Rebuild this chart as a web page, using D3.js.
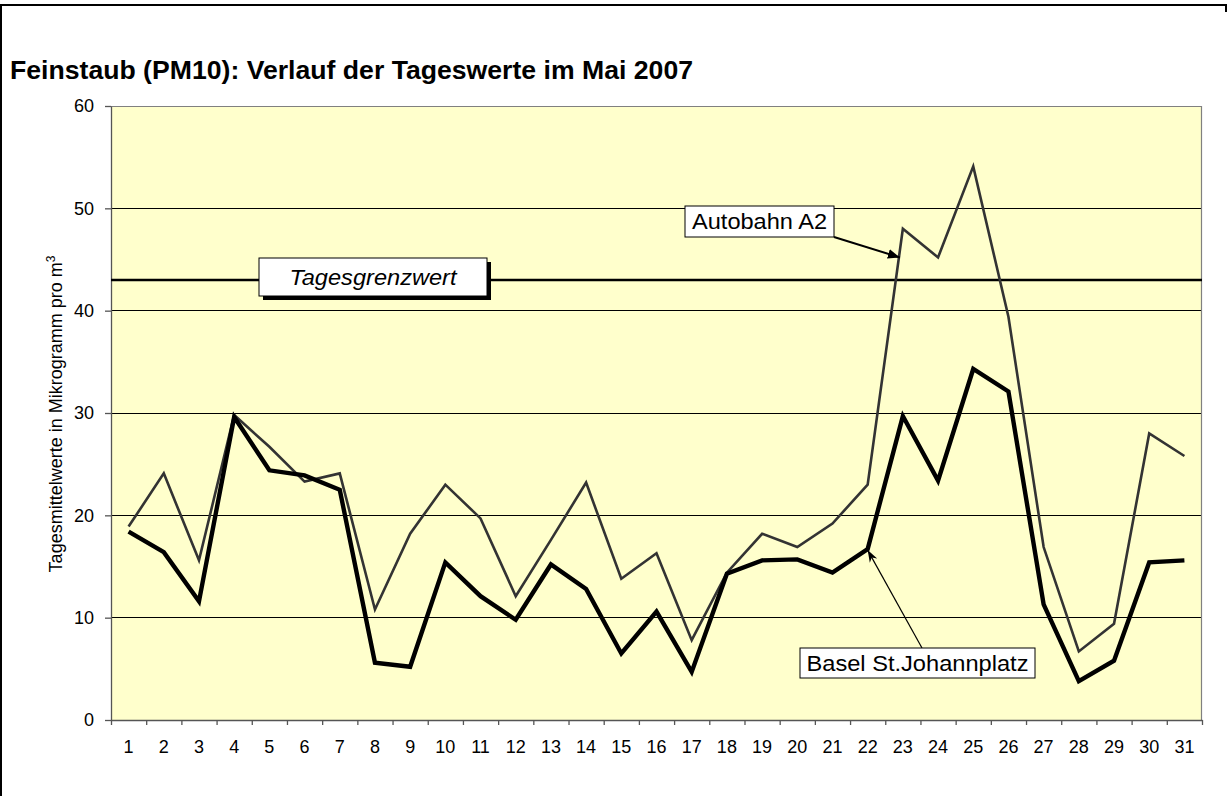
<!DOCTYPE html>
<html>
<head>
<meta charset="utf-8">
<script src="https://cdn.jsdelivr.net/npm/d3@7"></script>
<style>
    body { margin: 0; background: #fff; }
    text { font-family: Arial, "Liberation Sans", sans-serif; }
</style>
</head>
<body>
<div id="chart"></div>
<script>
var days = d3.range(1, 32).map(String);
var autobahn = [18.9, 24.1, 15.6, 29.8, 26.7, 23.3, 24.1, 10.8, 18.2, 23.0,
    19.7, 12.1, 17.6, 23.2, 13.8, 16.3, 7.8, 14.4, 18.2, 16.9,
    19.2, 23.0, 48.0, 45.2, 54.1, 39.4, 16.9, 6.7, 9.4, 28.0, 25.8];
var basel = [18.4, 16.4, 11.6, 29.6, 24.4, 23.9, 22.5, 5.6, 5.2, 15.4,
    12.1, 9.8, 15.2, 12.8, 6.5, 10.6, 4.7, 14.3, 15.6, 15.7,
    14.4, 16.7, 29.7, 23.4, 34.3, 32.1, 11.3, 3.8, 5.8, 15.4, 15.6];
var yTicks = [0, 10, 20, 30, 40, 50, 60];
var limitValue = 43;
var title = "Feinstaub (PM10): Verlauf der Tageswerte im Mai 2007";
var yLabel = "Tagesmittelwerte in Mikrogramm pro m";
var limitLabel = "Tagesgrenzwert";
var autobahnLabel = "Autobahn A2";
var baselLabel = "Basel St.Johannplatz";

var W = 1227, H = 796;
var margin = {top: 106, right: 25, bottom: 76, left: 111};
var width = W - margin.left - margin.right;
var height = H - margin.top - margin.bottom;

var root = d3.select("#chart")
    .append("svg")
    .attr("width", W)
    .attr("height", H);

// frame round the whole chart
root.append("path")
    .attr("d", "M1,800 L1,5 L1226,5 L1226,12")
    .attr("fill", "none")
    .attr("stroke", "#000")
    .attr("stroke-width", 2);

root.append("text")
    .attr("x", 10)
    .attr("y", 79)
    .attr("font-size", "25px")
    .attr("font-weight", "bold")
    .attr("textLength", 683)
    .attr("lengthAdjust", "spacingAndGlyphs")
    .attr("fill", "#000")
    .text(title);

var defs = root.append("defs");
defs.append("marker")
    .attr("id", "head_thick")
    .attr("viewBox", "0 0 10 10")
    .attr("refX", 10).attr("refY", 5)
    .attr("markerWidth", 6).attr("markerHeight", 6)
    .attr("markerUnits", "strokeWidth")
    .attr("orient", "auto")
    .append("path")
    .attr("d", "M0,1 L10,5 L0,9 Z")
    .attr("fill", "#000");
defs.append("marker")
    .attr("id", "head_thin")
    .attr("viewBox", "0 0 10 10")
    .attr("refX", 10).attr("refY", 5)
    .attr("markerWidth", 10).attr("markerHeight", 10)
    .attr("markerUnits", "strokeWidth")
    .attr("orient", "auto")
    .append("path")
    .attr("d", "M0,1.5 L10,5 L0,8.5 L3,5 Z")
    .attr("fill", "#000");

var svg = root.append("g")
    .attr("transform", "translate(" + margin.left + "," + margin.top + ")");

var x = d3.scaleBand()
    .range([0, width])
    .domain(days)
    .padding(0);
var xEdge = d3.scaleLinear()
    .range([0, width])
    .domain([0, days.length]);
var y = d3.scaleLinear()
    .range([height, 0])
    .domain([0, 60]);

var cx = function(d, i) { return x(days[i]) + x.bandwidth() / 2; };

svg.append("rect")
    .attr("width", width)
    .attr("height", height)
    .attr("fill", "#FFFFCC");

// gridlines
svg.append("g")
    .selectAll("line")
    .data(yTicks.filter(v => v > 0 && v < 60))
    .enter()
    .append("line")
    .attr("x1", 0)
    .attr("x2", width)
    .attr("y1", d => y(d))
    .attr("y2", d => y(d))
    .attr("stroke", "#000")
    .attr("stroke-width", 1)
    .attr("shape-rendering", "crispEdges");

// plot border top and right
svg.append("path")
    .attr("d", "M0,0.5 H" + (width - 0.5) + " V" + height)
    .attr("fill", "none")
    .attr("stroke", "#808080")
    .attr("stroke-width", 1.2);

// Build X axis: labels in the middle of each day, ticks on the borders
var xAxis = svg.append("g")
    .attr("transform", "translate(0," + height + ")")
    .call(d3.axisBottom(x).tickSize(0).tickPadding(20));
xAxis.select(".domain").remove();
xAxis.selectAll("text").attr("font-size", "18px").attr("fill", "#000").attr("font-family", null);

var xTickAxis = svg.append("g")
    .attr("transform", "translate(0," + height + ")")
    .call(d3.axisBottom(xEdge).tickValues(d3.range(0, days.length + 1)).tickFormat("").tickSize(5).tickSizeOuter(0));
xTickAxis.selectAll("line, path").attr("stroke", "#555").attr("stroke-width", 1.3);

// Build Y axis
var yAxis = svg.append("g")
    .call(d3.axisLeft(y).tickValues(yTicks).tickSize(6).tickPadding(11).tickSizeOuter(0));
yAxis.selectAll("line, path").attr("stroke", "#555").attr("stroke-width", 1.3);
yAxis.selectAll("text").attr("font-size", "18px").attr("fill", "#000").attr("font-family", null);

var yTitle = root.append("text")
    .attr("transform", "translate(62," + 414 + ") rotate(-90)")
    .attr("text-anchor", "middle")
    .attr("font-size", "18px")
    .attr("fill", "#000");
yTitle.append("tspan").text(yLabel);
yTitle.append("tspan").attr("dy", "-0.6em").attr("font-size", "12px").text("3");

// limit line
svg.append("line")
    .attr("x1", 0)
    .attr("x2", width)
    .attr("y1", y(limitValue))
    .attr("y2", y(limitValue))
    .attr("stroke", "#000")
    .attr("stroke-width", 2.6);

var line = d3.line()
    .x(cx)
    .y(d => y(d));

svg.append("path")
    .datum(autobahn)
    .attr("d", line)
    .attr("fill", "none")
    .attr("stroke", "#333")
    .attr("stroke-width", 2.6)
    .attr("stroke-linejoin", "miter");

svg.append("path")
    .datum(basel)
    .attr("d", line)
    .attr("fill", "none")
    .attr("stroke", "#000")
    .attr("stroke-width", 4.4)
    .attr("stroke-linejoin", "miter");

// labels with boxes
function label_box(text, bx, by, bw, bh, opts) {
    if (opts.shadow) {
        svg.append("rect")
            .attr("x", bx + 4).attr("y", by + 4)
            .attr("width", bw).attr("height", bh)
            .attr("fill", "#000");
    }
    svg.append("rect")
        .attr("x", bx).attr("y", by)
        .attr("width", bw).attr("height", bh)
        .attr("fill", "#fff")
        .attr("stroke", "#000")
        .attr("stroke-width", 1);
    svg.append("text")
        .attr("x", bx + bw / 2)
        .attr("y", by + bh / 2)
        .attr("dy", "0.36em")
        .attr("text-anchor", "middle")
        .attr("font-size", opts.size)
        .attr("font-style", opts.italic ? "italic" : "normal")
        .attr("textLength", opts.len)
        .attr("lengthAdjust", "spacingAndGlyphs")
        .attr("fill", "#000")
        .text(text);
}

label_box(limitLabel, 148, 152, 228, 38, {shadow: true, italic: true, size: "22px", len: 167});

// Autobahn A2 -> rising edge towards day 23
var aTipX = cx(null, 22) - 3;
var aTipY = y(45.2);
svg.append("line")
    .attr("x1", 723).attr("y1", 131)
    .attr("x2", aTipX).attr("y2", aTipY)
    .attr("stroke", "#000")
    .attr("stroke-width", 2)
    .attr("marker-end", "url(#head_thick)");
label_box(autobahnLabel, 574, 100, 149, 31, {shadow: false, italic: false, size: "22px", len: 135});

// Basel -> day 22 point
var bTipX = cx(null, 21);
var bTipY = y(basel[21]) + 1;
svg.append("line")
    .attr("x1", 811).attr("y1", 542)
    .attr("x2", bTipX).attr("y2", bTipY)
    .attr("stroke", "#000")
    .attr("stroke-width", 1.2)
    .attr("marker-end", "url(#head_thin)");
label_box(baselLabel, 689, 542, 235, 30, {shadow: false, italic: false, size: "22px", len: 222});
</script>
</body>
</html>
